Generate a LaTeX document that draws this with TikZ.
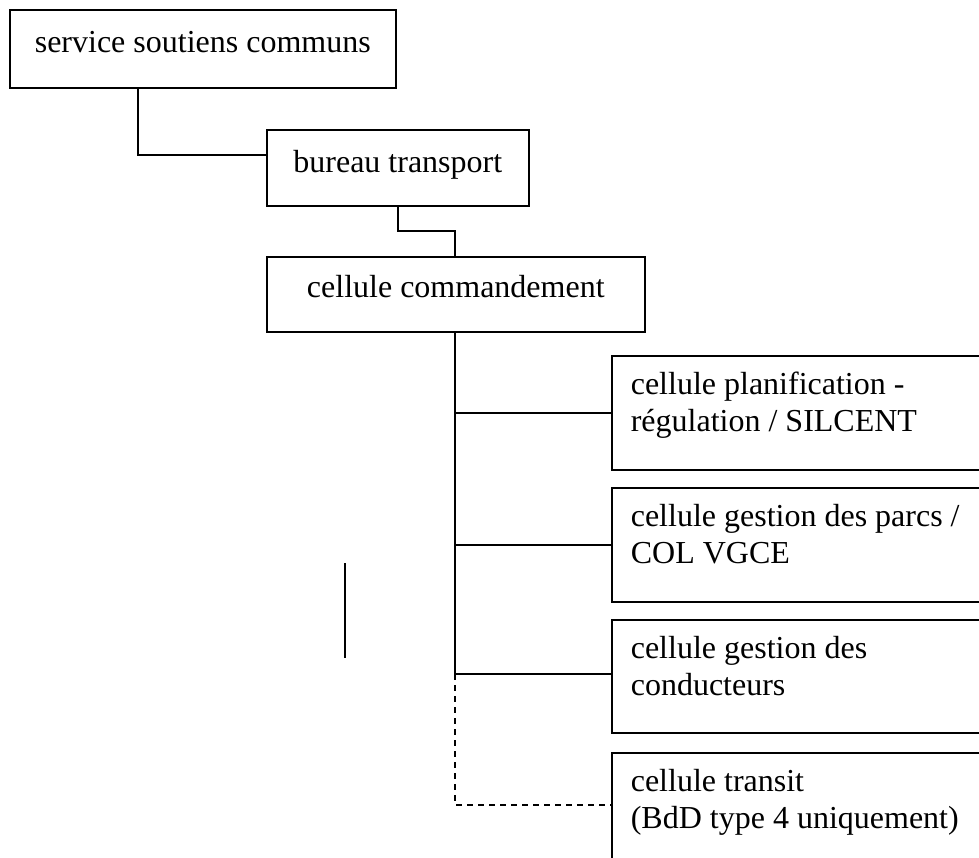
\documentclass[tikz,border=0pt]{standalone}
\usepackage{fontspec}
\setmainfont{Liberation Serif}
\begin{document}
\begin{tikzpicture}[x=1pt,y=-1pt,
  line width=1.6pt,
  unitbox/.style={draw, rectangle, inner sep=0pt, anchor=north west, line width=1.6pt},
  link/.style={draw, line width=1.6pt},
  optlink/.style={draw, line width=1.4pt, dash pattern=on 6pt off 5pt}]
\useasboundingbox (0,0) rectangle (979,858);
\fontsize{32pt}{37pt}\selectfont
% boxed labels: fixed size, text set from the top with a given gap
\newcommand{\boxtxt}[5]{\parbox[t][#2pt][t]{#1pt}{\vspace*{#5pt}#3\strut #4}}
\node[unitbox] (ssc) at (9,9) {\boxtxt{386}{78}{\centering}{service soutiens communs}{17}};
\node[unitbox] (bt) at (266,129) {\boxtxt{262}{76}{\centering}{bureau transport}{17}};
\node[unitbox] (cc) at (266,256) {\boxtxt{378}{75}{\centering}{cellule commandement}{14.5}};
\node[unitbox] (cpr) at (611,355) {\boxtxt{420}{114}{\raggedright\leftskip=19pt}{cellule planification -\\\strut régulation / SILCENT}{12.5}};
\node[unitbox] (cgp) at (611,487) {\boxtxt{420}{114}{\raggedright\leftskip=19pt}{cellule gestion des parcs /\\\strut COL VGCE}{12.5}};
\node[unitbox] (cgc) at (611,619) {\boxtxt{420}{113}{\raggedright\leftskip=19pt}{cellule gestion des\\\strut conducteurs}{12.5}};
\node[unitbox] (ct) at (611,752) {\boxtxt{420}{114}{\raggedright\leftskip=19pt}{cellule transit\\\strut (BdD type 4 uniquement)}{12.5}};
% elbow points of the connectors
\coordinate (e1) at (138,155);
\coordinate (e2) at (398,231);
\coordinate (e3) at (455,231);
\coordinate (t) at (455,0);
\coordinate (tend) at (455,674);
\coordinate (tdash) at (455,805);
% hierarchy links
\draw[link] (e1 |- ssc.south) -- (e1) -- (e1 -| bt.west);
\draw[link] (e2 |- bt.south) -- (e2) -- (e3) -- (e3 |- cc.north);
\draw[link] (t |- cc.south) -- (tend);
\draw[link] (t |- cpr.west) -- (cpr.west);
\draw[link] (t |- cgp.west) -- (cgp.west);
\draw[link] (tend) -- (tend -| cgc.west);
\draw[optlink] (tend) -- (tdash) -- (tdash -| ct.west);
% loose vertical stroke
\coordinate (s1) at (345,563);
\coordinate (s2) at (345,658);
\draw[link] (s1) -- (s2);
\end{tikzpicture}
\end{document}
